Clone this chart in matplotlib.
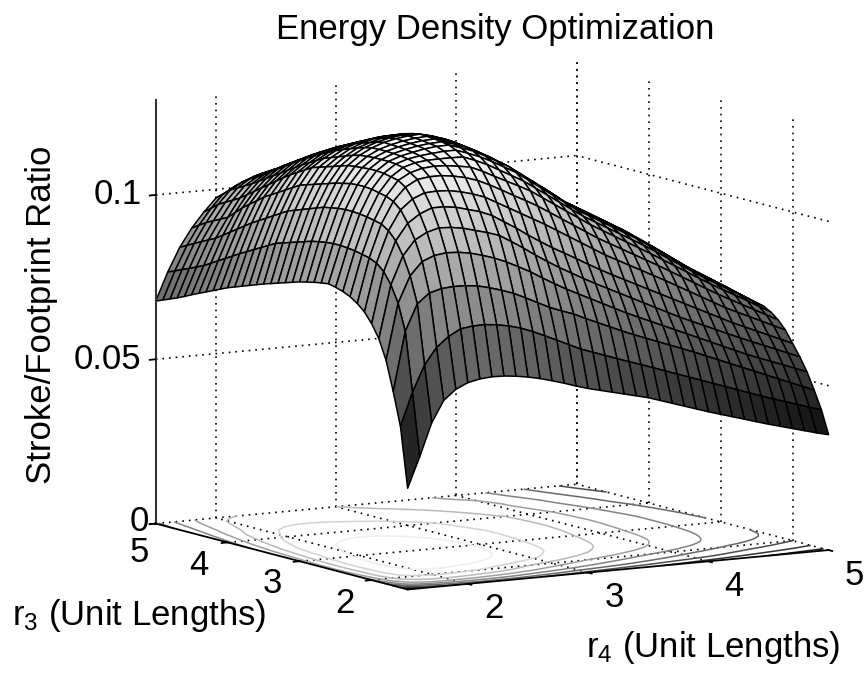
import numpy as np
import matplotlib
matplotlib.use('Agg')
import matplotlib.pyplot as plt
from mpl_toolkits.mplot3d import proj3d

plt.rcParams['font.family'] = ['Liberation Sans', 'DejaVu Sans']
plt.rcParams['mathtext.default'] = 'regular'

r4_values = [1.5, 1.6, 1.7, 1.8, 1.9, 2.0, 2.1, 2.2, 2.3, 2.4, 2.5, 2.6, 2.7, 2.8, 2.9, 3.0, 3.1, 3.2,
             3.3, 3.4, 3.5, 3.6, 3.7, 3.8, 3.9, 4.0, 4.1, 4.2, 4.3, 4.4, 4.5, 4.6, 4.7, 4.8, 4.9, 5.0]
r3_values = list(r4_values)

# ratio x 10000, one row per r3, one column per r4
ratio = [
    [308, 400, 500, 565, 595, 612, 620, 623, 622, 618, 612, 604, 594, 583, 571, 560, 551, 542, 533, 524, 515, 503, 491, 479, 467, 455, 444, 433, 422, 411, 400, 390, 380, 370, 360, 351],
    [490, 590, 670, 720, 750, 770, 775, 776, 772, 765, 755, 741, 725, 708, 691, 674, 661, 648, 635, 622, 610, 597, 584, 571, 558, 545, 532, 519, 506, 493, 480, 468, 456, 444, 432, 421],
    [590, 770, 850, 880, 890, 893, 892, 888, 879, 868, 855, 838, 820, 802, 788, 775, 758, 742, 726, 710, 695, 681, 667, 653, 639, 625, 610, 595, 580, 565, 550, 535, 520, 505, 490, 475],
    [680, 850, 930, 970, 985, 990, 988, 982, 972, 960, 945, 927, 908, 886, 865, 845, 827, 809, 791, 773, 755, 739, 723, 707, 691, 675, 659, 643, 627, 611, 595, 581, 567, 553, 539, 525],
    [740, 900, 985, 1030, 1050, 1060, 1058, 1052, 1042, 1032, 1020, 998, 975, 950, 927, 905, 885, 865, 846, 828, 810, 792, 774, 756, 738, 720, 704, 688, 672, 656, 640, 625, 610, 595, 580, 565],
    [780, 935, 1025, 1075, 1100, 1115, 1115, 1110, 1100, 1090, 1075, 1052, 1030, 1005, 982, 960, 940, 920, 899, 879, 860, 842, 824, 806, 788, 770, 752, 734, 716, 698, 680, 664, 648, 632, 616, 600],
    [810, 955, 1050, 1110, 1140, 1155, 1157, 1155, 1148, 1138, 1125, 1105, 1085, 1065, 1045, 1025, 1003, 981, 959, 937, 915, 896, 877, 858, 839, 820, 800, 780, 760, 740, 720, 703, 686, 669, 652, 635],
    [830, 965, 1065, 1130, 1170, 1190, 1195, 1195, 1190, 1182, 1170, 1153, 1134, 1114, 1095, 1075, 1052, 1029, 1006, 983, 960, 940, 920, 900, 880, 860, 839, 818, 797, 776, 755, 736, 717, 698, 679, 660],
    [845, 970, 1070, 1140, 1185, 1205, 1215, 1218, 1216, 1211, 1205, 1189, 1170, 1152, 1134, 1115, 1091, 1067, 1043, 1019, 995, 974, 953, 932, 911, 890, 868, 846, 824, 802, 780, 760, 740, 720, 699, 678],
    [855, 975, 1075, 1145, 1190, 1215, 1226, 1230, 1231, 1231, 1230, 1216, 1200, 1180, 1160, 1140, 1115, 1090, 1065, 1040, 1015, 994, 973, 952, 931, 910, 887, 864, 841, 818, 795, 774, 753, 732, 711, 690],
    [862, 978, 1078, 1150, 1195, 1220, 1232, 1238, 1242, 1245, 1245, 1232, 1218, 1200, 1180, 1160, 1134, 1108, 1082, 1056, 1030, 1009, 988, 967, 946, 925, 901, 877, 853, 829, 805, 783, 761, 739, 717, 695],
    [867, 980, 1080, 1152, 1197, 1222, 1235, 1243, 1250, 1254, 1255, 1243, 1230, 1212, 1192, 1172, 1146, 1120, 1094, 1067, 1040, 1019, 998, 977, 956, 935, 911, 887, 862, 837, 812, 790, 768, 746, 723, 700],
    [864, 980, 1080, 1152, 1197, 1222, 1237, 1246, 1253, 1257, 1259, 1249, 1236, 1219, 1199, 1177, 1152, 1126, 1100, 1075, 1046, 1025, 1004, 983, 962, 941, 916, 892, 868, 843, 817, 795, 773, 750, 727, 703],
    [860, 978, 1078, 1150, 1195, 1222, 1238, 1248, 1255, 1260, 1262, 1252, 1240, 1222, 1202, 1180, 1156, 1130, 1104, 1078, 1050, 1029, 1009, 988, 967, 945, 920, 896, 871, 846, 820, 798, 776, 753, 730, 705],
    [855, 974, 1074, 1145, 1193, 1220, 1238, 1249, 1257, 1262, 1264, 1255, 1243, 1225, 1205, 1183, 1158, 1133, 1109, 1083, 1055, 1034, 1014, 993, 971, 948, 923, 899, 874, 849, 823, 800, 778, 755, 731, 705],
    [850, 970, 1070, 1140, 1190, 1218, 1237, 1250, 1258, 1263, 1265, 1256, 1244, 1227, 1207, 1185, 1161, 1136, 1111, 1086, 1060, 1039, 1018, 996, 973, 950, 925, 901, 876, 851, 825, 802, 779, 755, 730, 705],
    [843, 963, 1062, 1133, 1183, 1212, 1232, 1245, 1254, 1259, 1261, 1253, 1241, 1224, 1205, 1183, 1160, 1136, 1113, 1089, 1064, 1043, 1022, 1000, 977, 953, 929, 904, 879, 853, 826, 803, 779, 755, 729, 703],
    [836, 956, 1054, 1126, 1176, 1204, 1225, 1238, 1248, 1253, 1255, 1248, 1237, 1221, 1202, 1181, 1159, 1136, 1113, 1091, 1068, 1047, 1026, 1004, 981, 957, 932, 906, 881, 855, 828, 804, 779, 754, 727, 700],
    [829, 949, 1046, 1119, 1169, 1196, 1217, 1231, 1241, 1246, 1247, 1241, 1231, 1216, 1198, 1177, 1157, 1135, 1113, 1092, 1072, 1051, 1029, 1007, 984, 960, 934, 908, 882, 856, 829, 804, 778, 752, 725, 697],
    [822, 942, 1038, 1112, 1162, 1188, 1209, 1223, 1232, 1237, 1238, 1232, 1223, 1209, 1192, 1172, 1153, 1132, 1112, 1093, 1076, 1054, 1032, 1009, 986, 963, 936, 910, 883, 857, 830, 804, 778, 751, 723, 693],
    [815, 935, 1030, 1105, 1155, 1180, 1200, 1213, 1221, 1225, 1225, 1220, 1212, 1199, 1183, 1165, 1147, 1128, 1110, 1094, 1080, 1057, 1034, 1011, 988, 965, 938, 911, 884, 857, 830, 804, 777, 749, 720, 690],
    [807, 923, 1017, 1092, 1142, 1168, 1189, 1202, 1210, 1214, 1215, 1209, 1201, 1189, 1175, 1158, 1141, 1123, 1106, 1091, 1077, 1055, 1033, 1010, 987, 965, 938, 911, 883, 856, 828, 801, 774, 746, 716, 684],
    [799, 911, 1004, 1079, 1129, 1155, 1178, 1191, 1199, 1203, 1203, 1198, 1190, 1180, 1167, 1151, 1135, 1118, 1102, 1088, 1073, 1052, 1031, 1009, 986, 964, 936, 908, 880, 852, 824, 796, 769, 741, 710, 678],
    [791, 899, 991, 1066, 1116, 1143, 1166, 1180, 1188, 1191, 1191, 1187, 1179, 1170, 1158, 1144, 1129, 1113, 1098, 1084, 1070, 1049, 1029, 1007, 985, 963, 935, 906, 877, 848, 819, 791, 763, 733, 704, 672],
    [783, 887, 978, 1053, 1101, 1129, 1154, 1168, 1176, 1179, 1178, 1175, 1168, 1159, 1149, 1137, 1122, 1108, 1094, 1080, 1065, 1045, 1025, 1004, 982, 961, 932, 903, 873, 843, 814, 785, 756, 726, 696, 666],
    [775, 875, 965, 1040, 1085, 1115, 1141, 1155, 1162, 1166, 1165, 1162, 1156, 1149, 1140, 1130, 1116, 1103, 1089, 1075, 1060, 1040, 1021, 1001, 980, 960, 930, 900, 870, 840, 810, 780, 750, 720, 690, 660],
    [765, 862, 950, 1023, 1069, 1101, 1127, 1141, 1148, 1152, 1151, 1148, 1142, 1135, 1127, 1117, 1104, 1091, 1078, 1064, 1048, 1029, 1010, 991, 972, 953, 922, 892, 862, 832, 802, 771, 741, 711, 680, 650],
    [755, 849, 935, 1007, 1053, 1087, 1113, 1127, 1134, 1138, 1137, 1134, 1128, 1121, 1113, 1103, 1091, 1079, 1066, 1052, 1036, 1018, 1000, 982, 963, 945, 914, 884, 854, 824, 794, 763, 732, 701, 670, 640],
    [745, 836, 920, 990, 1037, 1073, 1099, 1113, 1120, 1124, 1122, 1119, 1113, 1106, 1098, 1089, 1078, 1066, 1054, 1040, 1024, 1007, 990, 972, 954, 936, 906, 876, 846, 816, 786, 755, 724, 693, 661, 630],
    [735, 823, 905, 970, 1021, 1059, 1084, 1099, 1106, 1108, 1106, 1104, 1098, 1090, 1083, 1075, 1064, 1053, 1041, 1027, 1012, 996, 980, 962, 944, 928, 898, 868, 838, 808, 778, 747, 716, 684, 652, 620],
    [725, 810, 890, 950, 1005, 1045, 1069, 1083, 1091, 1095, 1095, 1092, 1086, 1079, 1071, 1061, 1051, 1040, 1029, 1015, 1000, 985, 970, 955, 940, 925, 895, 864, 833, 802, 770, 738, 706, 674, 642, 610],
    [714, 800, 879, 939, 993, 1033, 1056, 1070, 1079, 1083, 1084, 1081, 1074, 1066, 1058, 1048, 1037, 1026, 1015, 1001, 986, 971, 957, 943, 928, 914, 885, 854, 823, 792, 760, 727, 695, 662, 630, 598],
    [704, 790, 868, 928, 981, 1021, 1045, 1058, 1067, 1073, 1073, 1069, 1062, 1054, 1045, 1035, 1024, 1012, 1000, 986, 972, 958, 945, 931, 917, 903, 874, 843, 812, 781, 750, 717, 684, 650, 618, 586],
    [695, 781, 857, 917, 969, 1009, 1030, 1044, 1053, 1060, 1061, 1057, 1050, 1041, 1031, 1021, 1010, 998, 986, 972, 958, 945, 932, 919, 905, 892, 863, 832, 801, 770, 740, 706, 672, 638, 606, 574],
    [686, 771, 845, 903, 951, 991, 1012, 1026, 1037, 1045, 1047, 1044, 1039, 1031, 1020, 1010, 999, 987, 975, 963, 949, 935, 921, 908, 893, 881, 852, 822, 792, 762, 730, 696, 662, 628, 595, 562],
    [677, 762, 834, 889, 934, 973, 990, 1003, 1015, 1025, 1030, 1032, 1028, 1020, 1010, 1000, 990, 978, 966, 953, 940, 926, 911, 900, 885, 870, 842, 812, 782, 752, 720, 686, 652, 618, 584, 550],
]

contour_levels = [0.04, 0.05, 0.06, 0.07, 0.08, 0.09, 0.10, 0.11, 0.12]
r_ticks = [2, 3, 4]
z_ticks = [0.05, 0.1]

r_lo, r_hi = 1.5, 5
z_top = 0.129

X, Y = np.meshgrid(r4_values, r3_values)
Z = np.array(ratio) / 10000.0

fig = plt.figure(figsize=(8.67, 6.75), dpi=100)
ax = fig.add_axes([(480 - 450) / 867, (675 - 337 - 450) / 675, 900 / 867, 900 / 675], projection='3d')
ax.computed_zorder = False
ax.set_proj_type('ortho')
ax.view_init(elev=9, azim=-120.9)
ax.set_box_aspect((1, 1, 0.875), zoom=0.88)

dots = dict(color='k', lw=1.2, ls=(0, (1, 3)), zorder=1)

# back walls and floor grid
for t in r_ticks + [r_hi]:
    ax.plot([t, t], [r_hi, r_hi], [0, z_top], **dots)
    ax.plot([r_hi, r_hi], [t, t], [0, z_top], **dots)
    ax.plot([t, t], [r_lo, r_hi], [0, 0], **dots)
    ax.plot([r_lo, r_hi], [t, t], [0, 0], **dots)
for t in z_ticks:
    ax.plot([r_lo, r_hi], [r_hi, r_hi], [t, t], **dots)
    ax.plot([r_hi, r_hi], [r_lo, r_hi], [t, t], **dots)

ax.contour(X, Y, Z, levels=contour_levels, zdir='z', offset=0, cmap='gray',
           vmin=Z.min(), vmax=Z.max(), linewidths=1.1, zorder=2)

ax.plot_surface(X, Y, Z, rstride=1, cstride=1, cmap='gray', vmin=Z.min(), vmax=Z.max(),
                edgecolor='k', linewidth=1.1, antialiased=True, zorder=3)

# axis lines
axis_line = dict(color='k', lw=1.3, zorder=4)
ax.plot([r_lo, r_lo], [r_hi, r_hi], [0, z_top], color='#333333', lw=1.5, zorder=4)
ax.plot([r_lo, r_hi], [r_lo, r_lo], [0, 0], **axis_line)
ax.plot([r_lo, r_lo], [r_lo, r_hi], [0, 0], **axis_line)

ax.set_xlim(r_lo, r_hi)
ax.set_ylim(r_lo, r_hi)
ax.set_zlim(0, z_top)
ax.set_axis_off()


def tick_label(r4, r3, z, s, dx, dy, ha='center'):
    px, py, _ = proj3d.proj_transform(r4, r3, z, ax.get_proj())
    ax.annotate(s, (px, py), xytext=(dx, dy), textcoords='offset pixels', fontsize=25,
                ha=ha, va='center', annotation_clip=False)


# tick marks and labels
r3_label_dx = {2: -27, 3: -27, 4: -29, 5: -16}
r3_label_dy = {2: -23, 3: -22, 4: -23, 5: -29}
for t in r_ticks + [r_hi]:
    ax.plot([t, t], [r_lo, r_lo - 0.05], [0, 0], **axis_line)
    ax.plot([r_lo, r_lo - 0.05], [t, t], [0, 0], **axis_line)
    tick_label(t, r_lo, 0, str(t), 26, -25)
    tick_label(r_lo, t, 0, str(t), r3_label_dx[t], r3_label_dy[t])
for t, s, dx in zip([0] + z_ticks, ['0', '0.05', '0.1'], [-7, -14, -14]):
    ax.plot([r_lo, r_lo - 0.05], [r_hi, r_hi], [t, t], **axis_line)
    tick_label(r_lo, r_hi, t, s, dx, 2 if t == 0 else 0, ha='right')

fig.text(495 / 867, 1 - 30 / 675, 'Energy Density Optimization', fontsize=25, ha='center', va='center')
fig.text(42 / 867, 1 - 315 / 675, 'Stroke/Footprint Ratio', fontsize=25, rotation=90, ha='center', va='center')
fig.text(139 / 867, 1 - 615 / 675, 'r$_3$ (Unit Lengths)', fontsize=25, ha='center', va='center')
fig.text(713 / 867, 1 - 648 / 675, 'r$_4$ (Unit Lengths)', fontsize=25, ha='center', va='center')

fig.savefig('out.png', dpi=100)
